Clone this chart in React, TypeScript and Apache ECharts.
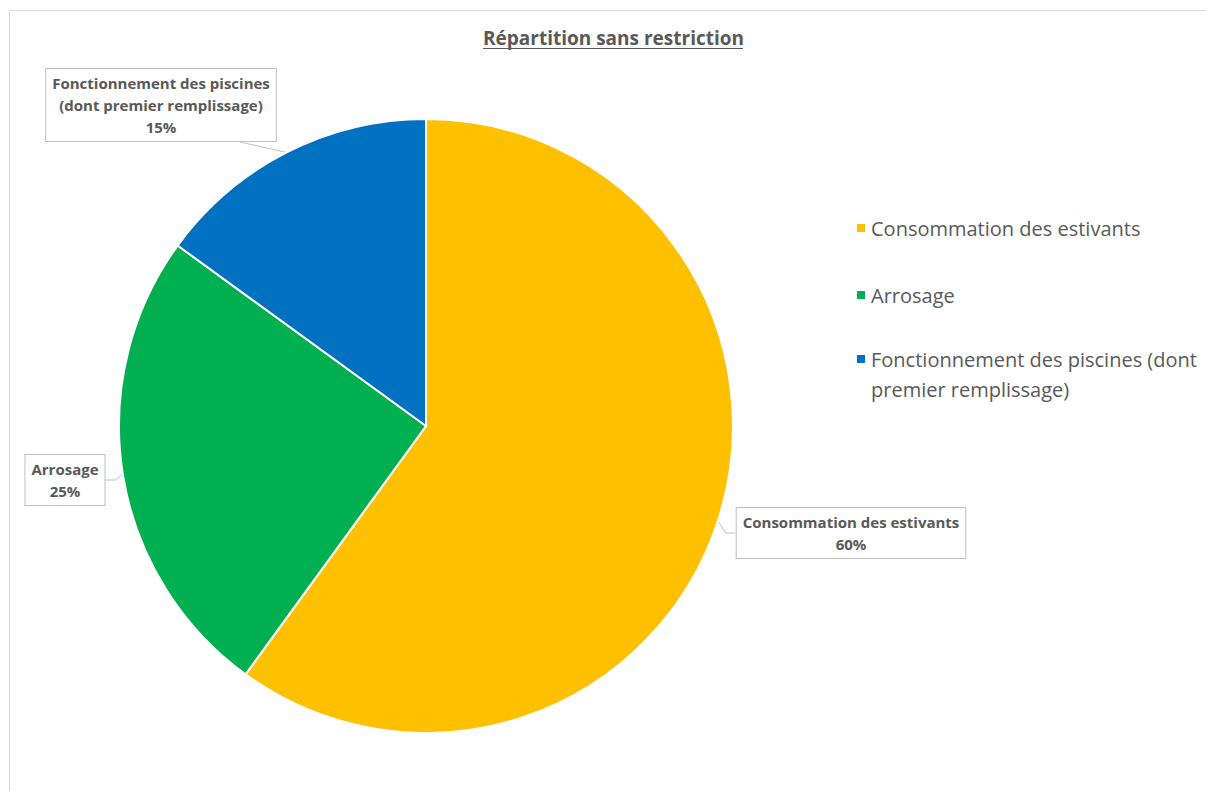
import React, { useEffect, useRef } from "react";
import * as echarts from "echarts";

const categories = [
  "Consommation des estivants",
  "Arrosage",
  "Fonctionnement des piscines (dont premier remplissage)",
];
const values = [60, 25, 15];
const colors = ["#FFC000", "#00B050", "#0070C0"];
const titleText = "Répartition sans restriction";

const labelPos = [
  { x: 851, y: 533 },
  { x: 65, y: 480 },
  { x: 161, y: 105 },
];

export default function App() {
  const ref = useRef<HTMLDivElement>(null);
  useEffect(() => {
    if (!ref.current) return;
    const chart = echarts.init(ref.current, undefined, { renderer: "svg" });
    const font = "'Open Sans', 'Noto Sans', sans-serif";
    chart.setOption({
      animation: false,
      backgroundColor: "#ffffff",
      color: colors,
      title: {
        text: titleText,
        left: 483,
        top: 26,
        padding: 0,
        textStyle: { fontFamily: font, fontSize: 19, fontWeight: "bold", color: "#595959", lineHeight: 24 },
      },
      graphic: [
        {
          type: "rect",
          shape: { x: 9.5, y: 10.5, width: 1400, height: 1000 },
          style: { fill: "none", stroke: "#d9d9d9", lineWidth: 1 },
          silent: true,
        },
        {
          type: "line",
          shape: { x1: 483, y1: 48.5, x2: 743, y2: 48.5 },
          style: { stroke: "#595959", lineWidth: 1.2 },
          silent: true,
        },
      ],
      legend: [
        {
          orient: "vertical",
          left: 855,
          top: 213,
          padding: 0,
          itemWidth: 10,
          itemHeight: 10,
          itemGap: 37,
          icon: "rect",
          data: [categories[0], categories[1]],
          textStyle: { fontFamily: font, fontSize: 20, color: "#595959", lineHeight: 30 },
        },
        {
          orient: "vertical",
          left: 855,
          top: 314,
          padding: 0,
          itemWidth: 10,
          itemHeight: 10,
          icon: "rect",
          data: [categories[2]],
          formatter: (n: string) => "\n" + n.replace(" premier", "\npremier"),
          textStyle: {
            fontFamily: font,
            fontSize: 20,
            color: "#595959",
            lineHeight: 30,
          },
        },
      ],
      series: [
        {
          type: "pie",
          center: [426, 426],
          radius: 307,
          startAngle: 90,
          clockwise: true,
          data: categories.map((c, i) => ({ name: c, value: values[i] })),
          itemStyle: { borderColor: "#ffffff", borderWidth: 2 },
          label: {
            show: true,
            position: "outside",
            formatter: (p: any) => p.name.replace(" (dont", "\n(dont") + "\n" + p.percent + "%",
            fontFamily: font,
            fontSize: 15,
            fontWeight: "bold",
            color: "#595959",
            lineHeight: 22,
            align: "center",
            backgroundColor: "#ffffff",
            borderColor: "#bfbfbf",
            borderWidth: 1,
            padding: [3, 6, 3, 6],
          },
          labelLine: {
            show: true,
            length: 10,
            length2: 10,
            lineStyle: { color: "#bfbfbf", width: 1 },
          },
          labelLayout: (params: any) => {
            const p = labelPos[params.dataIndex];
            const res: any = { x: p.x, y: p.y, align: "center", verticalAlign: "middle" };
            if (params.dataIndex === 2 && params.labelLinePoints) {
              const tip = params.labelLinePoints[0];
              res.labelLinePoints = [tip, [240, 142], [240, 142]];
            }
            return res;
          },
          emphasis: { disabled: true },
        },
      ],
    });
    return () => chart.dispose();
  }, []);
  return (
    <div
      ref={ref}
      style={{ position: "fixed", left: 0, top: 0, width: 1206, height: 791 }}
    />
  );
}
